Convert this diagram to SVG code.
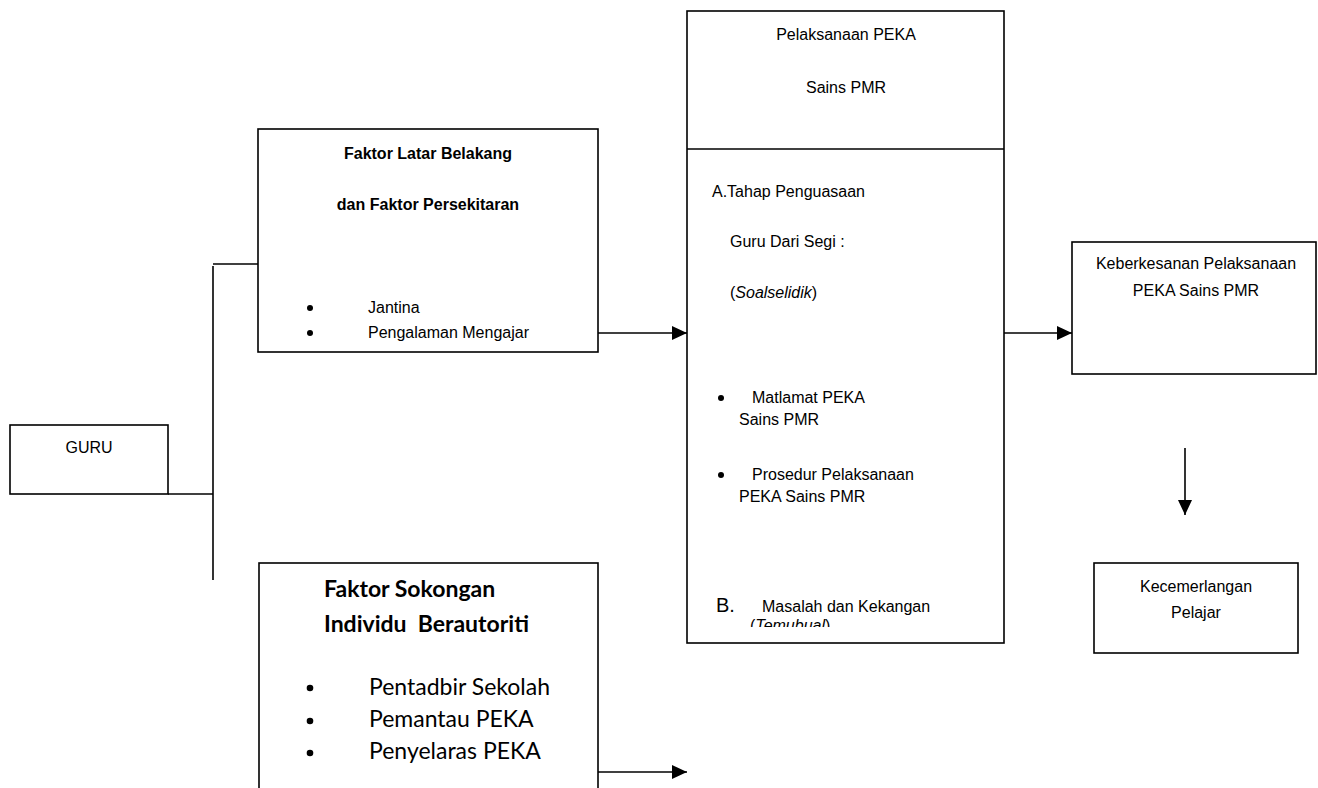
<svg xmlns="http://www.w3.org/2000/svg" width="1318" height="788" viewBox="0 0 1318 788">
<style>
.box{fill:#fff;stroke:#000;stroke-width:1.6}
.ln{fill:none;stroke:#000;stroke-width:1.6}
.t{font-family:"Liberation Sans",Arial,sans-serif;font-size:16px;fill:#000}
.big{font-size:20px}
.b{font-weight:bold}
.c{text-anchor:middle}
.cal{font-family:Lato,"Open Sans",sans-serif;font-size:23px;fill:#000}
</style>
<defs>
<marker id="ah" markerWidth="15" markerHeight="14" refX="15" refY="7" orient="auto" markerUnits="userSpaceOnUse">
<path d="M0,0 L15,7 L0,14 Z" fill="#000"/>
</marker>
<clipPath id="clipB"><rect x="690" y="560" width="310" height="67"/></clipPath>
</defs>
<rect width="1318" height="788" fill="#fff"/>
<g id="guru">
<rect class="box" x="10" y="425" width="158" height="69"/>
<text class="t c" x="89" y="453">GURU</text>
</g>
<g id="latar">
<rect class="box" x="258" y="129" width="340" height="223"/>
<text class="t b c" x="428" y="159">Faktor Latar Belakang</text>
<text class="t b c" x="428" y="210">dan Faktor Persekitaran</text>
<circle cx="310" cy="308" r="3"/>
<circle cx="310" cy="333" r="3"/>
<text class="t" x="368" y="313">Jantina</text>
<text class="t" x="368" y="338">Pengalaman Mengajar</text>
</g>
<g id="pelaksanaan">
<rect class="box" x="687" y="11" width="317" height="632"/>
<line class="ln" x1="687" y1="149" x2="1004" y2="149"/>
<text class="t c" x="846" y="40">Pelaksanaan PEKA</text>
<text class="t c" x="846" y="93">Sains PMR</text>
<text class="t" x="712" y="197">A.Tahap Penguasaan</text>
<text class="t" x="730" y="247">Guru Dari Segi :</text>
<text class="t" x="730" y="298">(<tspan font-style="italic">Soalselidik</tspan>)</text>
<circle cx="721" cy="398" r="3"/>
<text class="t" x="752" y="403">Matlamat PEKA</text>
<text class="t" x="739" y="425">Sains PMR</text>
<circle cx="721" cy="475" r="3"/>
<text class="t" x="752" y="480">Prosedur Pelaksanaan</text>
<text class="t" x="739" y="502">PEKA Sains PMR</text>
<text class="t big" x="716" y="612">B.</text>
<text class="t" x="762" y="612">Masalah dan Kekangan</text>
<text class="t" x="750" y="631" clip-path="url(#clipB)">(<tspan font-style="italic">Temubual</tspan>)</text>
</g>
<g id="keberkesanan">
<rect class="box" x="1072" y="242" width="244" height="132"/>
<text class="t c" x="1196" y="269">Keberkesanan Pelaksanaan</text>
<text class="t c" x="1196" y="296">PEKA Sains PMR</text>
</g>
<g id="kecemerlangan">
<rect class="box" x="1094" y="563" width="204" height="90"/>
<text class="t c" x="1196" y="592">Kecemerlangan</text>
<text class="t c" x="1196" y="618">Pelajar</text>
</g>
<g id="sokongan">
<rect class="box" x="259" y="563" width="339" height="240"/>
<text class="cal b" x="324" y="597">Faktor Sokongan</text>
<text class="cal b" x="324" y="632" xml:space="preserve">Individu  Berautoriti</text>
<circle cx="310" cy="688" r="3.3"/>
<circle cx="310" cy="721" r="3.3"/>
<circle cx="310" cy="753" r="3.3"/>
<text class="cal" x="369" y="695">Pentadbir Sekolah</text>
<text class="cal" x="369" y="727">Pemantau PEKA</text>
<text class="cal" x="369" y="759">Penyelaras PEKA</text>
</g>
<g id="connectors">
<line class="ln" x1="168" y1="494" x2="213" y2="494"/>
<line class="ln" x1="213" y1="266" x2="213" y2="580"/>
<line class="ln" x1="213" y1="264" x2="258" y2="264"/>
<line class="ln" x1="598" y1="333" x2="687" y2="333" marker-end="url(#ah)"/>
<line class="ln" x1="598" y1="772" x2="687" y2="772" marker-end="url(#ah)"/>
<line class="ln" x1="1004" y1="333" x2="1072" y2="333" marker-end="url(#ah)"/>
<line class="ln" x1="1185" y1="448" x2="1185" y2="515" marker-end="url(#ah)"/>
</g>
</svg>
